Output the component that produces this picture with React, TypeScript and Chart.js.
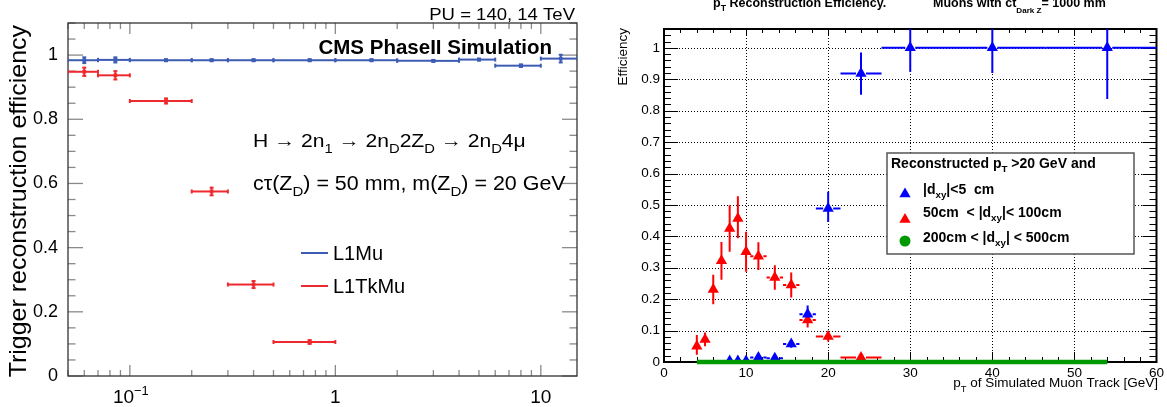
import React, { useEffect, useRef } from "react";
import { Chart, registerables } from "chart.js";

Chart.register(...registerables);

const FONT = '"Liberation Sans", Arial, Helvetica, sans-serif';

// ---------------- Left panel data ----------------
const LEFT_BIN_LO = [0.05, 0.07, 0.1, 0.2, 0.3, 0.5, 1, 2, 4, 6, 10];
const LEFT_BIN_HI = [0.07, 0.1, 0.2, 0.3, 0.5, 1, 2, 4, 6, 10, 15];
const LEFT_BIN_CENTER = [0.06, 0.085, 0.15, 0.25, 0.4, 0.75, 1.5, 3, 5, 8, 12.5];
const L1MU_EFF = [0.984, 0.985, 0.984, 0.984, 0.984, 0.984, 0.984, 0.982, 0.986, 0.967, 0.989];
const L1MU_ERR = [0.009, 0.008, 0.003, 0.003, 0.003, 0.003, 0.003, 0.003, 0.003, 0.004, 0.012];
const L1TKMU_EFF = [0.948, 0.937, 0.857, 0.575, 0.285, 0.106];
const L1TKMU_ERR = [0.013, 0.013, 0.008, 0.012, 0.011, 0.006];
const LEFT_X_LABEL_VALUES = [0.1, 1, 10];

// ---------------- Right panel data ----------------
const PT_CENTER = [4, 5, 6, 7, 8, 9, 10, 11.5, 13.5, 15.5, 17.5, 20, 24, 30, 40, 54];
const PT_BIN_LO = [3.5, 4.5, 5.5, 6.5, 7.5, 8.5, 9.5, 10.5, 12.5, 14.5, 16.5, 18.5, 21.5, 26.5, 33.5, 46.5];
const PT_BIN_HI = [4.5, 5.5, 6.5, 7.5, 8.5, 9.5, 10.5, 12.5, 14.5, 16.5, 18.5, 21.5, 26.5, 33.5, 46.5, 61.5];
const EFF_DXY_LT5 = [null, null, null, null, 0.003, 0.003, 0.003, 0.014, 0.012, 0.057, 0.152, 0.489, 0.918, 1.0, 1.0, 1.0];
const ERRLO_DXY_LT5 = [0, 0, 0, 0, 0.003, 0.003, 0.003, 0.008, 0.008, 0.012, 0.028, 0.043, 0.067, 0.076, 0.08, 0.163];
const ERRHI_DXY_LT5 = [0, 0, 0, 0, 0.003, 0.003, 0.003, 0.008, 0.008, 0.012, 0.028, 0.053, 0.067, 0.08, 0.08, 0.1];
const EFF_DXY_50_100 = [0.05, 0.072, 0.231, 0.322, 0.425, 0.457, 0.351, 0.337, 0.269, 0.245, 0.134, 0.081, 0.014, null, null, null];
const ERRLO_DXY_50_100 = [0.027, 0.022, 0.047, 0.06, 0.074, 0.063, 0.064, 0.044, 0.039, 0.04, 0.024, 0.016, 0.006, 0, 0, 0];
const ERRHI_DXY_50_100 = [0.036, 0.022, 0.047, 0.06, 0.074, 0.071, 0.064, 0.044, 0.039, 0.04, 0.024, 0.016, 0.006, 0, 0, 0];
const EFF_DXY_200_500 = [0, 0, 0, 0, 0, 0, 0, 0, 0, 0, 0, 0, 0, 0, 0, 0];

const L_BLUE = "#3d5cb3";
const L_RED = "#ee2a2f";
const R_BLUE = "#0000ff";
const R_RED = "#ff0000";
const R_GREEN = "#009a00";

type Seg = { t: string; s?: number };
const S = (t: string, s = 0): Seg => ({ t, s });

function drawRich(ctx: any, segs: Seg[], x: number, y: number, size: number, opts: any = {}) {
  const weight = opts.bold ? "bold " : "";
  const subScale = opts.subScale ?? 0.7;
  const sx = opts.sx ?? 1;
  const fontFor = (sg: Seg) => `${weight}${sg.s ? size * subScale : size}px ${FONT}`;
  const widths = segs.map((sg) => {
    ctx.font = fontFor(sg);
    return ctx.measureText(sg.t).width;
  });
  const total = widths.reduce((a, b) => a + b, 0) * sx;
  let start = opts.align === "right" ? x - total : opts.align === "center" ? x - total / 2 : x;
  ctx.save();
  ctx.translate(start, y);
  ctx.scale(sx, 1);
  ctx.fillStyle = opts.color ?? "#000";
  ctx.textAlign = "left";
  ctx.textBaseline = "alphabetic";
  let cx = 0;
  segs.forEach((sg, i) => {
    ctx.font = fontFor(sg);
    const dy = sg.s === -1 ? size * (opts.subDy ?? 0.3) : sg.s === 1 ? -size * (opts.supDy ?? 0.42) : 0;
    ctx.fillText(sg.t, cx, dy);
    cx += widths[i];
  });
  ctx.restore();
  return total;
}

function line(ctx: any, x1: number, y1: number, x2: number, y2: number) {
  ctx.beginPath();
  ctx.moveTo(x1, y1);
  ctx.lineTo(x2, y2);
  ctx.stroke();
}

function drawErrorBars(chart: any) {
  const { ctx, chartArea: a, scales } = chart;
  const xs = scales.x, ys = scales.y;
  ctx.save();
  ctx.beginPath();
  ctx.rect(a.left, a.top, a.right - a.left, a.bottom - a.top);
  ctx.clip();
  chart.data.datasets.forEach((ds: any) => {
    const e = ds.err;
    if (!e) return;
    ctx.strokeStyle = ds.borderColor;
    ctx.lineWidth = e.width;
    ds.data.forEach((p: any) => {
      const i = p.i;
      const px = xs.getPixelForValue(p.x);
      const py = ys.getPixelForValue(p.y);
      const xl = xs.getPixelForValue(e.xLo[i]);
      const xh = xs.getPixelForValue(e.xHi[i]);
      const yl = ys.getPixelForValue(p.y - e.yLo[i]);
      const yh = ys.getPixelForValue(p.y + e.yHi[i]);
      const gx = e.gapX;
      if (px - gx > xl) line(ctx, xl, py, px - gx, py);
      if (xh > px + gx) line(ctx, px + gx, py, xh, py);
      if (py > yh) line(ctx, px, yh, px, py);
      if (yl > py) line(ctx, px, py, px, yl);
      if (e.cap) {
        const c = e.cap;
        line(ctx, xl, py - c, xl, py + c);
        line(ctx, xh, py - c, xh, py + c);
        if (e.yLo[i] > 0) line(ctx, px - c, yl, px + c, yl);
        if (e.yHi[i] > 0) line(ctx, px - c, yh, px + c, yh);
      }
    });
  });
  ctx.restore();
}

const fmtTick = (v: any) => String(Number(Number(v).toFixed(2)));

const leftDecor = {
  id: "leftDecor",
  beforeDatasetsDraw(chart: any) {
    const { ctx, chartArea: a, scales } = chart;
    const xs = scales.x, ys = scales.y;
    ctx.save();
    ctx.strokeStyle = "#8a8a8a";
    ctx.lineWidth = 1.3;
    for (let k = 0; k <= 22; k++) {
      const v = k * 0.05;
      const py = ys.getPixelForValue(v);
      const len = k % 4 === 0 ? 15 : 7.5;
      line(ctx, a.left, py, a.left + len, py);
      line(ctx, a.right, py, a.right - len, py);
    }
    for (const d of [-2, -1, 0, 1]) {
      for (let m = 1; m <= 9; m++) {
        const v = m * Math.pow(10, d);
        if (v < 0.0499 || v > 15.01) continue;
        const px = xs.getPixelForValue(v);
        const len = m === 1 ? 11 : 6;
        line(ctx, px, a.bottom, px, a.bottom - len);
        line(ctx, px, a.top, px, a.top + len);
      }
    }
    ctx.strokeStyle = "#333";
    ctx.lineWidth = 1.3;
    ctx.strokeRect(a.left, a.top, a.right - a.left, a.bottom - a.top);
    ctx.restore();
    drawErrorBars(chart);
  },
  afterDraw(chart: any) {
    const { ctx, scales } = chart;
    const xs = scales.x;
    ctx.save();
    LEFT_X_LABEL_VALUES.forEach((v) => {
      const px = xs.getPixelForValue(v);
      if (v === 0.1) drawRich(ctx, [S("10"), S("\u22121", 1)], px + 1, 403, 19, { align: "center", subScale: 0.68 });
      else drawRich(ctx, [S(String(v))], px, 403, 19, { align: "center" });
    });
    ctx.save();
    ctx.translate(26, 25);
    ctx.rotate(-Math.PI / 2);
    drawRich(ctx, [S("Trigger reconstruction efficiency")], 0, 0, 24, { align: "right", sx: 1.04 });
    ctx.restore();
    drawRich(ctx, [S("PU = 140, 14 TeV")], 575, 20, 17, { align: "right", sx: 1.09 });
    drawRich(ctx, [S("CMS PhaseII Simulation")], 552, 54, 20.5, { align: "right", bold: true });
    drawRich(
      ctx,
      [S("H \u2192 2n"), S("1", -1), S(" \u2192 2n"), S("D", -1), S("2Z"), S("D", -1), S(" \u2192 2n"), S("D", -1), S("4\u03bc")],
      253, 147, 19, { sx: 1.11 }
    );
    drawRich(ctx, [S("c\u03c4(Z"), S("D", -1), S(") = 50 mm, m(Z"), S("D", -1), S(") = 20 GeV")], 253, 190, 19.5, { sx: 1.1 });
    ctx.lineWidth = 2;
    ctx.strokeStyle = L_BLUE;
    line(ctx, 301, 253, 328, 253);
    ctx.strokeStyle = L_RED;
    line(ctx, 301, 286, 328, 286);
    drawRich(ctx, [S("L1Mu")], 333, 260, 20);
    drawRich(ctx, [S("L1TkMu")], 333, 293, 20);
    ctx.restore();
  },
};

function triangle(ctx: any, x: number, y: number, r: number) {
  ctx.beginPath();
  ctx.moveTo(x, y - r);
  ctx.lineTo(x + r * Math.sin(Math.PI / 3), y + r / 2);
  ctx.lineTo(x - r * Math.sin(Math.PI / 3), y + r / 2);
  ctx.closePath();
  ctx.fill();
}

const rightDecor = {
  id: "rightDecor",
  beforeDatasetsDraw(chart: any) {
    const { ctx, chartArea: a, scales } = chart;
    const xs = scales.x, ys = scales.y;
    ctx.save();
    ctx.strokeStyle = "#000";
    ctx.lineWidth = 1;
    ctx.setLineDash([1, 2]);
    for (let v = 10; v <= 50; v += 10) {
      const px = Math.round(xs.getPixelForValue(v)) + 0.5;
      line(ctx, px, a.top, px, a.bottom);
    }
    for (let k = 1; k <= 10; k++) {
      const py = Math.round(ys.getPixelForValue(k / 10)) + 0.5;
      line(ctx, a.left, py, a.right, py);
    }
    ctx.setLineDash([]);
    ctx.lineWidth = 1;
    for (let k = 0; k <= 53; k++) {
      const py = Math.round(ys.getPixelForValue(k * 0.02)) + 0.5;
      const len = k % 5 === 0 ? 14 : 7;
      line(ctx, a.left, py, a.left + len, py);
      line(ctx, a.right, py, a.right - len, py);
    }
    for (let k = 0; k <= 30; k++) {
      const px = Math.round(xs.getPixelForValue(k * 2)) + 0.5;
      const maj = k % 5 === 0;
      line(ctx, px, a.bottom, px, a.bottom - (maj ? 10 : 5));
      line(ctx, px, a.top, px, a.top + (maj ? 6 : 4));
    }
    ctx.lineWidth = 2;
    ctx.strokeRect(a.left, a.top, a.right - a.left, a.bottom - a.top);
    ctx.restore();
    drawErrorBars(chart);
  },
  afterDraw(chart: any) {
    const { ctx } = chart;
    ctx.save();
    drawRich(ctx, [S("p"), S("T", -1), S(" Reconstruction Efficiency.")], 130, 7, 12.5, { bold: true });
    drawRich(ctx, [S("Muons with ct"), S("Dark Z", -1), S("= 1000 mm")], 350, 7, 12.5, { bold: true, subScale: 0.65, subDy: 0.45 });
    ctx.save();
    ctx.translate(44, 28);
    ctx.rotate(-Math.PI / 2);
    drawRich(ctx, [S("Efficiency")], 0, 0, 13.5, { align: "right" });
    ctx.restore();
    drawRich(ctx, [S("p"), S("T", -1), S(" of Simulated Muon Track [GeV]")], 575, 387, 13.5, { align: "right", subDy: 0.35 });
    ctx.fillStyle = "#fff";
    ctx.fillRect(304, 153, 247, 101);
    ctx.strokeStyle = "#555";
    ctx.lineWidth = 1.5;
    ctx.strokeRect(304, 153, 247, 101);
    drawRich(ctx, [S("Reconstructed p"), S("T", -1), S(" >20 GeV and")], 308, 168, 14, { bold: true });
    ctx.fillStyle = R_BLUE;
    triangle(ctx, 322, 194, 6.5);
    ctx.fillStyle = R_RED;
    triangle(ctx, 322, 219.5, 6.5);
    ctx.fillStyle = R_GREEN;
    ctx.beginPath();
    ctx.arc(322, 241, 5.5, 0, Math.PI * 2);
    ctx.fill();
    drawRich(ctx, [S("|d"), S("xy", -1), S("|<5  cm")], 340, 193.5, 14, { bold: true });
    drawRich(ctx, [S("50cm  < |d"), S("xy", -1), S("|< 100cm")], 340, 217, 14, { bold: true });
    drawRich(ctx, [S("200cm < |d"), S("xy", -1), S("| < 500cm")], 340, 241.5, 14, { bold: true });
    ctx.restore();
  },
};

function makeLeft(canvas: HTMLCanvasElement) {
  const blue = LEFT_BIN_CENTER.map((x, i) => ({ x, y: L1MU_EFF[i], i }));
  const red = L1TKMU_EFF.map((y, i) => ({ x: LEFT_BIN_CENTER[i], y, i }));
  return new Chart(canvas, {
    type: "scatter",
    data: {
      datasets: [
        {
          label: "L1Mu",
          data: blue,
          pointStyle: "rect",
          pointRadius: 2.6,
          backgroundColor: L_BLUE,
          borderColor: L_BLUE,
          borderWidth: 0,
          err: { xLo: LEFT_BIN_LO, xHi: LEFT_BIN_HI, yLo: L1MU_ERR, yHi: L1MU_ERR, width: 2, gapX: 0, cap: 2 },
        } as any,
        {
          label: "L1TkMu",
          data: red,
          pointStyle: "rect",
          pointRadius: 2.6,
          backgroundColor: L_RED,
          borderColor: L_RED,
          borderWidth: 0,
          err: { xLo: LEFT_BIN_LO, xHi: LEFT_BIN_HI, yLo: L1TKMU_ERR, yHi: L1TKMU_ERR, width: 2, gapX: 0, cap: 2 },
        } as any,
      ],
    },
    options: {
      responsive: false,
      animation: false,
      events: [],
      layout: { padding: { top: 23, right: 6, left: 0, bottom: 0 } },
      plugins: { legend: { display: false }, tooltip: { enabled: false } },
      scales: {
        x: {
          type: "logarithmic",
          min: 0.05,
          max: 15,
          grid: { display: false },
          border: { display: false },
          ticks: { display: false },
          afterFit: (s: any) => {
            s.height = 31;
          },
        },
        y: {
          type: "linear",
          min: 0,
          max: 1.1,
          grid: { display: false, drawTicks: false },
          border: { display: false },
          ticks: { stepSize: 0.2, includeBounds: false, padding: 10, color: "#000", font: { family: FONT, size: 18 }, callback: fmtTick },
          afterFit: (s: any) => {
            s.width = 68;
          },
        },
      },
    } as any,
    plugins: [leftDecor],
  });
}

function makeRight(canvas: HTMLCanvasElement) {
  const green = PT_CENTER.map((x, i) => ({ x, y: EFF_DXY_200_500[i], i }));
  const blue = PT_CENTER.map((x, i) => ({ x, y: EFF_DXY_LT5[i], i })).filter((p) => p.y !== null);
  const red = PT_CENTER.map((x, i) => ({ x, y: EFF_DXY_50_100[i], i })).filter((p) => p.y !== null);
  return new Chart(canvas, {
    type: "scatter",
    data: {
      datasets: [
        {
          type: "line",
          label: "200cm < |dxy| < 500cm",
          data: green,
          borderColor: R_GREEN,
          backgroundColor: R_GREEN,
          borderWidth: 4.5,
          pointRadius: 0,
          showLine: true,
          fill: false,
          tension: 0,
          clip: false,
        } as any,
        {
          label: "|dxy|<5 cm",
          data: blue,
          pointStyle: "triangle",
          pointRadius: 6.5,
          backgroundColor: R_BLUE,
          borderColor: R_BLUE,
          borderWidth: 0,
          err: { xLo: PT_BIN_LO, xHi: PT_BIN_HI, yLo: ERRLO_DXY_LT5, yHi: ERRHI_DXY_LT5, width: 2, gapX: 5, cap: 0 },
        } as any,
        {
          label: "50cm < |dxy| < 100cm",
          data: red,
          pointStyle: "triangle",
          pointRadius: 6.5,
          backgroundColor: R_RED,
          borderColor: R_RED,
          borderWidth: 0,
          err: { xLo: PT_BIN_LO, xHi: PT_BIN_HI, yLo: ERRLO_DXY_50_100, yHi: ERRHI_DXY_50_100, width: 2, gapX: 5, cap: 0 },
        } as any,
      ],
    },
    options: {
      responsive: false,
      animation: false,
      events: [],
      layout: { padding: { top: 29, right: 9, left: 0, bottom: 0 } },
      plugins: { legend: { display: false }, tooltip: { enabled: false } },
      scales: {
        x: {
          type: "linear",
          min: 0,
          max: 60,
          grid: { display: false, drawTicks: false },
          border: { display: false },
          ticks: { stepSize: 10, padding: 3, color: "#000", maxRotation: 0, font: { family: FONT, size: 13.5 }, callback: fmtTick },
          afterFit: (s: any) => {
            s.height = 45;
          },
        },
        y: {
          type: "linear",
          min: 0,
          max: 1.06,
          grid: { display: false, drawTicks: false },
          border: { display: false },
          ticks: { stepSize: 0.1, includeBounds: false, padding: 4, color: "#000", font: { family: FONT, size: 13.5 }, callback: fmtTick },
          afterFit: (s: any) => {
            s.width = 81;
          },
        },
      },
    } as any,
    plugins: [rightDecor],
  });
}

export default function App() {
  const leftRef = useRef<HTMLCanvasElement>(null);
  const rightRef = useRef<HTMLCanvasElement>(null);
  useEffect(() => {
    const c1 = makeLeft(leftRef.current as HTMLCanvasElement);
    const c2 = makeRight(rightRef.current as HTMLCanvasElement);
    return () => {
      c1.destroy();
      c2.destroy();
    };
  }, []);
  return (
    <div style={{ position: "fixed", left: 0, top: 0, width: 1167, height: 407, background: "#fff", overflow: "hidden" }}>
      <canvas ref={leftRef} width={583} height={407} style={{ position: "absolute", left: 0, top: 0 }} />
      <canvas ref={rightRef} width={584} height={407} style={{ position: "absolute", left: 583, top: 0 }} />
    </div>
  );
}
